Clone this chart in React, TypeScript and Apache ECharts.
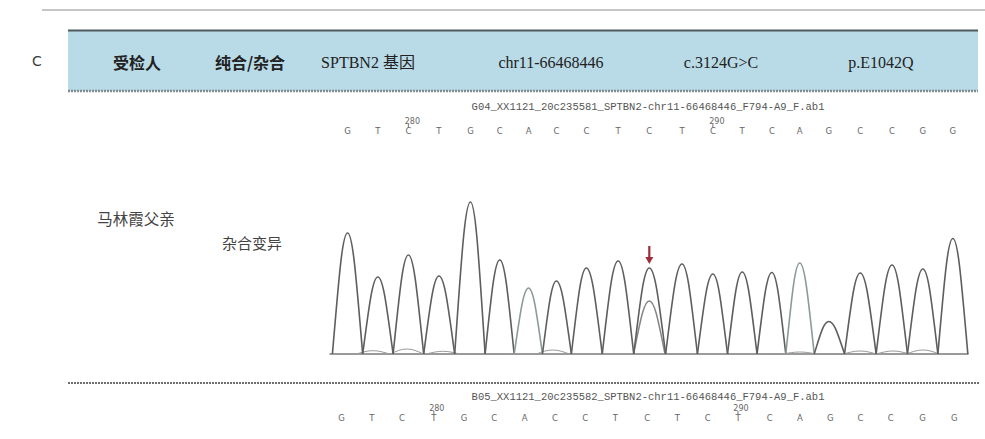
import React, { useEffect, useRef } from "react";
import * as echarts from "echarts";

// ---- data ----
const HEADER_TEXTS = ["受检人", "纯合/杂合", "SPTBN2 基因", "chr11-66468446", "c.3124G>C", "p.E1042Q"];
const SUBJECT = "马林霞父亲";
const ZYGOSITY = "杂合变异";
const FILE_TOP = "G04_XX1121_20c235581_SPTBN2-chr11-66468446_F794-A9_F.ab1";
const FILE_BOTTOM = "B05_XX1121_20c235582_SPTBN2-chr11-66468446_F794-A9_F.ab1";

const BASES = ["G", "T", "C", "T", "G", "C", "A", "C", "C", "T", "C", "T", "C", "T", "C", "A", "G", "C", "C", "G", "G"];
const PEAK_POS = [278.0, 279.0, 280.01, 281.02, 282.06, 283.03, 283.98, 284.9, 285.89, 286.94, 287.97, 289.05, 290.07, 291.04, 292.02, 292.94, 293.9, 294.94, 295.99, 297.01, 298.0];
const PEAK_HEIGHT = [1210, 770, 990, 780, 1520, 940, 660, 730, 860, 930, 860, 900, 800, 820, 815, 910, 325, 810, 890, 850, 1155];
const SECONDARY_POS = [287.97];
const SECONDARY_HEIGHT = [530];
const NOISE_POS = [278.84, 279.96, 281.15, 284.78, 292.94, 294.93, 296.02, 297.01];
const NOISE_HEIGHT = [33, 50, 27, 40, 20, 30, 30, 40];
const MUTATION_INDEX = 10;
const TOP_MARK_INDEX = [2, 12];
const TOP_MARK_TEXT = ["280", "290"];
const BOTTOM_POS = [277.8, 278.8, 279.8, 280.85, 281.85, 282.85, 283.85, 284.85, 285.85, 286.85, 287.9, 288.9, 289.9, 290.9, 291.95, 292.95, 293.95, 294.95, 295.95, 297.0, 298.05];
const BOTTOM_MARK_INDEX = [3, 13];
const BOTTOM_MARK_TEXT = ["280", "290"];

// row levels on the signal axis used for the base-call rows
const ROW_TOP_LETTERS = 2230;
const ROW_TOP_MARKS = 2330;
const ROW_BOTTOM_LETTERS = -640;
const ROW_BOTTOM_MARKS = -540;

const CJK = '"Noto Sans CJK SC", "Noto Sans", sans-serif';
const SERIF = '"Liberation Serif", "Noto Sans CJK SC", serif';

function peakPath(xl: number, cx: number, xr: number, base: number, top: number) {
  const h = base - top;
  const wl = cx - xl;
  const wr = xr - cx;
  return (
    `M${xl},${base} ` +
    `C${xl + 0.4 * wl},${base - 0.58 * h} ${cx - 0.36 * wl},${top} ${cx},${top} ` +
    `C${cx + 0.36 * wr},${top} ${xr - 0.4 * wr},${base - 0.58 * h} ${xr},${base}`
  );
}

export default function App() {
  const ref = useRef<HTMLDivElement>(null);

  useEffect(() => {
    if (!ref.current) return;
    const chart = echarts.init(ref.current, undefined, { renderer: "svg" });
    const n = PEAK_POS.length;

    const headerX = [137, 250, 368, 551, 721, 881];
    const headerFonts = [CJK, CJK, SERIF, SERIF, SERIF, SERIF];
    const headerWeights = ["bold", "bold", "normal", "normal", "normal", "normal"];

    const center = { align: "center", verticalAlign: "middle", textAlign: "center", textVerticalAlign: "middle" };

    const graphic: any[] = [
      { type: "line", shape: { x1: 42, y1: 10, x2: 985, y2: 10 }, style: { stroke: "#8c8c8c", lineWidth: 1.2 }, z: 1 },
      { type: "text", x: 37, y: 61, style: { text: "C", fill: "#3a3a3a", fontSize: 14, fontFamily: "DejaVu Sans", ...center }, z: 2 },
      { type: "rect", shape: { x: 68, y: 30, width: 910, height: 61 }, style: { fill: "#b9dbe7" }, z: 1 },
      { type: "line", shape: { x1: 68, y1: 30.5, x2: 978, y2: 30.5 }, style: { stroke: "#4f5a5e", lineWidth: 2 }, z: 2 },
      { type: "line", shape: { x1: 68, y1: 91, x2: 978, y2: 91 }, style: { stroke: "#7f8c90", lineWidth: 2.5, lineDash: [2, 1] }, z: 2 },
      { type: "line", shape: { x1: 68, y1: 383, x2: 980, y2: 383 }, style: { stroke: "#6f6f6f", lineWidth: 2, lineDash: [2, 1] }, z: 2 },
      { type: "text", x: 648, y: 107, style: { text: FILE_TOP, fill: "#555", fontSize: 10.5, fontFamily: '"Liberation Mono", monospace', ...center }, z: 2 },
      { type: "text", x: 648, y: 397, style: { text: FILE_BOTTOM, fill: "#555", fontSize: 10.5, fontFamily: '"Liberation Mono", monospace', ...center }, z: 2 },
      { type: "text", x: 136, y: 218, style: { text: SUBJECT, fill: "#444", fontSize: 15.5, fontFamily: CJK, ...center }, z: 2 },
      { type: "text", x: 252, y: 242, style: { text: ZYGOSITY, fill: "#444", fontSize: 15, fontFamily: CJK, ...center }, z: 2 },
    ];
    HEADER_TEXTS.forEach((t, i) => {
      graphic.push({
        type: "text",
        x: headerX[i],
        y: 62,
        style: {
          text: t,
          fill: "#222",
          fontSize: 16,
          fontWeight: headerWeights[i],
          fontFamily: headerFonts[i],
          ...center,
        },
        z: 3,
      });
    });

    const colorFor = (i: number) => (BASES[i] === "A" ? "#8b9d93" : "#5e5e5e");

    const letterText = (x: number, y: number, text: string, size: number, fill: string) => ({
      type: "text",
      x,
      y,
      style: { text, fill, fontSize: size, fontFamily: "DejaVu Sans", ...center },
    });

    const option: any = {
      animation: false,
      backgroundColor: "#ffffff",
      graphic,
      grid: { left: 330, width: 638, top: 100, height: 320, containLabel: false },
      xAxis: {
        type: "value",
        min: 277.42,
        max: 298.5,
        axisLine: { show: true, onZero: true, lineStyle: { color: "#7a7a7a", width: 1.5 } },
        axisTick: { show: false },
        axisLabel: { show: false },
        splitLine: { show: false },
      },
      yAxis: {
        type: "value",
        min: -660,
        max: 2540,
        show: false,
        splitLine: { show: false },
      },
      series: [
        {
          type: "custom",
          name: "noise",
          clip: false,
          data: NOISE_POS.map((p, i) => [p, NOISE_HEIGHT[i]]),
          renderItem: (params: any, api: any) => {
            const pos = api.value(0);
            const h = api.value(1);
            const [cx, ty] = api.coord([pos, h]);
            const [xl, by] = api.coord([pos - 0.55, 0]);
            const [xr] = api.coord([pos + 0.55, 0]);
            return { type: "path", shape: { pathData: peakPath(xl, cx, xr, by, ty) }, style: { fill: "none", stroke: "#9a9a9a", lineWidth: 1 } };
          },
          z: 3,
        },
        {
          type: "custom",
          name: "secondary",
          clip: false,
          data: SECONDARY_POS.map((p, i) => [p, SECONDARY_HEIGHT[i]]),
          renderItem: (params: any, api: any) => {
            const pos = api.value(0);
            const h = api.value(1);
            const [cx, ty] = api.coord([pos, h]);
            const [xl, by] = api.coord([pos - 0.52, 0]);
            const [xr] = api.coord([pos + 0.52, 0]);
            return { type: "path", shape: { pathData: peakPath(xl, cx, xr, by, ty) }, style: { fill: "none", stroke: "#858585", lineWidth: 1.5 } };
          },
          z: 4,
        },
        {
          type: "custom",
          name: "trace",
          clip: false,
          data: PEAK_POS.map((p, i) => [p, PEAK_HEIGHT[i]]),
          renderItem: (params: any, api: any) => {
            const i = params.dataIndex;
            const pos = api.value(0);
            const h = api.value(1);
            const lw = i > 0 ? (pos - PEAK_POS[i - 1]) / 2 : (PEAK_POS[1] - pos) / 2;
            const rw = i < n - 1 ? (PEAK_POS[i + 1] - pos) / 2 : (pos - PEAK_POS[n - 2]) / 2;
            const [cx, ty] = api.coord([pos, h]);
            const [xl, by] = api.coord([pos - lw, 0]);
            const [xr] = api.coord([pos + rw, 0]);
            const children: any[] = [
              { type: "path", shape: { pathData: peakPath(xl, cx, xr, by, ty) }, style: { fill: "none", stroke: colorFor(i), lineWidth: 1.6 } },
            ];
            if (i === MUTATION_INDEX) {
              children.push({ type: "line", shape: { x1: cx, y1: ty - 22, x2: cx, y2: ty - 9 }, style: { stroke: "#9b2d3c", lineWidth: 2.2 } });
              children.push({ type: "polygon", shape: { points: [[cx - 4, ty - 11], [cx + 4, ty - 11], [cx, ty - 4]] }, style: { fill: "#9b2d3c" } });
            }
            return { type: "group", children };
          },
          z: 5,
        },
        {
          type: "custom",
          name: "calls-top",
          clip: false,
          data: PEAK_POS.map((p) => [p, ROW_TOP_LETTERS]),
          renderItem: (params: any, api: any) => {
            const i = params.dataIndex;
            const [x, y] = api.coord([api.value(0), api.value(1)]);
            const children: any[] = [letterText(x, y, BASES[i], 8.5, "#666666")];
            const k = TOP_MARK_INDEX.indexOf(i);
            if (k >= 0) {
              const [, my] = api.coord([api.value(0), ROW_TOP_MARKS]);
              children.push(letterText(x + 4, my, TOP_MARK_TEXT[k], 8, "#666666"));
              children.push({ type: "line", shape: { x1: x, y1: y - 7, x2: x, y2: y - 3 }, style: { stroke: "#777", lineWidth: 1 } });
            }
            return { type: "group", children };
          },
          z: 5,
        },
        {
          type: "custom",
          name: "calls-bottom",
          clip: false,
          data: BOTTOM_POS.map((p) => [p, ROW_BOTTOM_LETTERS]),
          renderItem: (params: any, api: any) => {
            const i = params.dataIndex;
            const [x, y] = api.coord([api.value(0), api.value(1)]);
            const children: any[] = [letterText(x, y, BASES[i], 8.5, "#666666")];
            const k = BOTTOM_MARK_INDEX.indexOf(i);
            if (k >= 0) {
              const [, my] = api.coord([api.value(0), ROW_BOTTOM_MARKS]);
              children.push(letterText(x + 3, my, BOTTOM_MARK_TEXT[k], 8, "#666666"));
              children.push({ type: "line", shape: { x1: x, y1: y - 7, x2: x, y2: y - 3 }, style: { stroke: "#777", lineWidth: 1 } });
            }
            return { type: "group", children };
          },
          z: 5,
        },
      ],
    };

    chart.setOption(option);
    return () => chart.dispose();
  }, []);

  return (
    <div
      ref={ref}
      style={{ position: "absolute", left: 0, top: 0, width: 985, height: 439, background: "#fff" }}
    />
  );
}
